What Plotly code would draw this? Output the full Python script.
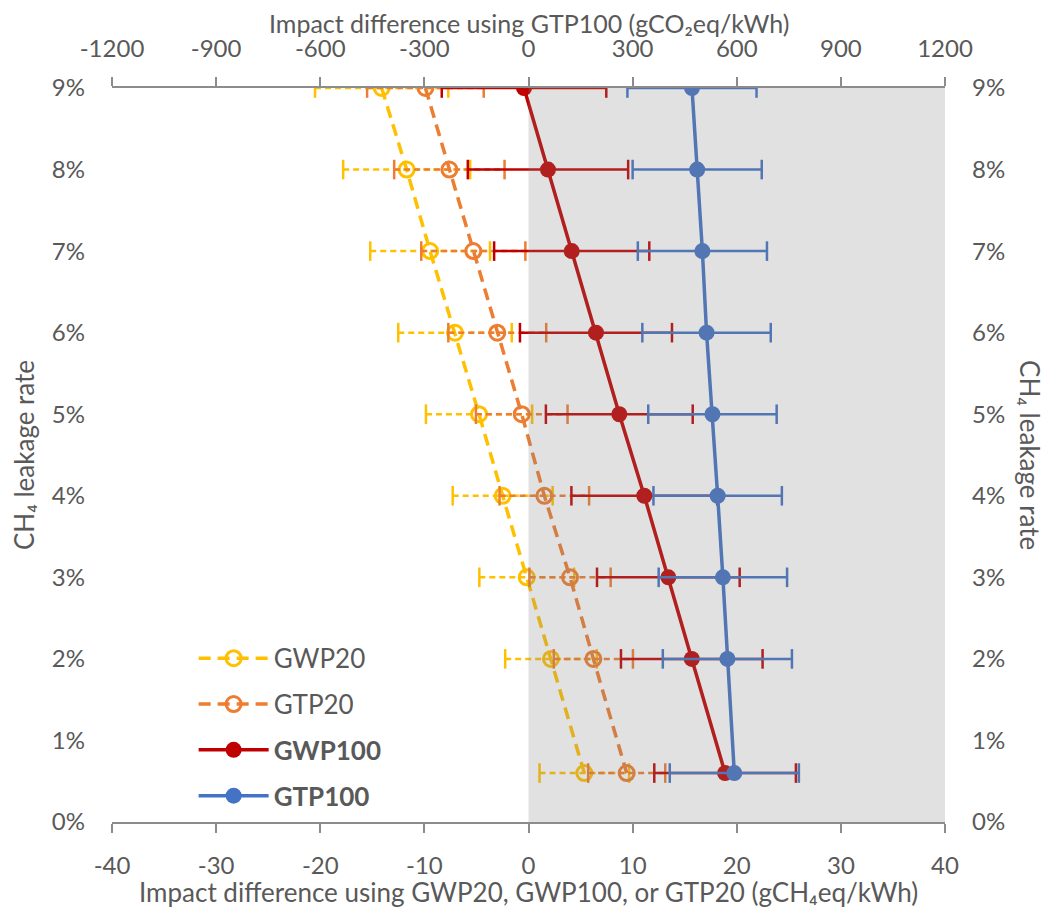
import plotly.graph_objects as go

leak = [9, 8, 7, 6, 5, 4, 3, 2, 0.6]
gwp20 = [-14.1, -11.7, -9.45, -7.06, -4.75, -2.48, -0.17, 2.16, 5.36]
gwp20_err = [6.4, 6.1, 5.75, 5.45, 5.1, 4.8, 4.55, 4.4, 4.3]
gtp20 = [-9.9, -7.6, -5.3, -3.0, -0.65, 1.52, 3.99, 6.23, 9.43]
gtp20_err = [5.6, 5.3, 5.0, 4.7, 4.4, 4.3, 3.9, 3.8, 3.7]
gwp100 = [-0.43, 1.87, 4.15, 6.48, 8.72, 11.12, 13.43, 15.68, 18.88]
gwp100_err = [7.9, 7.7, 7.45, 7.3, 7.05, 7.0, 6.85, 6.8, 6.8]
gtp100 = [471, 486, 501, 513, 530, 545, 560, 573, 593]  # gCO2eq/kWh
gtp100_err = [186, 186, 186, 185, 185, 185, 185, 186, 186]

x_ticks = [-40, -30, -20, -10, 0, 10, 20, 30, 40]
x2_ticks = [-1200, -900, -600, -300, 0, 300, 600, 900, 1200]
y_ticks = [0, 1, 2, 3, 4, 5, 6, 7, 8, 9]

FONT = "Lato, 'Open Sans', sans-serif"
TXT = "#595959"
AX = "#8c8c8c"
FS = 24
TFS = 26

fig = go.Figure()


def add_series(name, xs, errs, color, dash, open_marker, xaxis, bold=False):
    ex, ey, cx, cy = [], [], [], []
    for v, e, y in zip(xs, errs, leak):
        ex += [v - e, v + e, None]
        ey += [y, y, None]
        cx += [v - e, v + e]
        cy += [y, y]
    fig.add_trace(go.Scatter(
        x=ex, y=ey, mode="lines", xaxis=xaxis, yaxis="y",
        line=dict(color=color, width=2.5, dash=("6px,4px" if dash else "solid")),
        showlegend=False, hoverinfo="skip"))
    fig.add_trace(go.Scatter(
        x=cx, y=cy, mode="markers", xaxis=xaxis, yaxis="y",
        marker=dict(symbol="line-ns", size=14, line=dict(color=color, width=2.5)),
        showlegend=False, hoverinfo="skip"))
    fig.add_trace(go.Scatter(
        x=xs, y=leak, mode="lines+markers", xaxis=xaxis, yaxis="y",
        name=(f"<b>{name}</b>" if bold else name), legendgroup=name,
        line=dict(color=color, width=3.5, dash=("12px,7px" if dash else "solid")),
        marker=dict(symbol=("circle-open" if open_marker else "circle"),
                    size=(15 if open_marker else 16), color=color,
                    line=dict(color=color, width=3 if open_marker else 0))))


add_series("GWP20", gwp20, gwp20_err, "#FFC000", True, True, "x")
add_series("GTP20", gtp20, gtp20_err, "#ED7D31", True, True, "x")
add_series("GWP100", gwp100, gwp100_err, "#C00000", False, False, "x", bold=True)
add_series("GTP100", gtp100, gtp100_err, "#4472C4", False, False, "x2", bold=True)

# invisible trace to keep right axis alive
fig.add_trace(go.Scatter(x=[0], y=[0], xaxis="x", yaxis="y2", mode="markers",
                         marker=dict(opacity=0), showlegend=False, hoverinfo="skip"))

fig.add_shape(type="rect", xref="x", yref="y", x0=0, x1=40, y0=0, y1=9,
              fillcolor="rgba(128,128,128,0.24)", line=dict(width=0), layer="above")

tickfont = dict(family=FONT, size=FS, color=TXT)
titlefont = dict(family=FONT, size=TFS, color=TXT)

# page body has an 8px default margin -> figure is 8px smaller and shifted
fig.update_layout(
    width=1041, height=909,
    margin=dict(l=104, r=104, t=80, b=95, autoexpand=False),
    paper_bgcolor="white", plot_bgcolor="white",
    font=dict(family=FONT, color=TXT),
    xaxis=dict(range=[-40, 40], tickvals=x_ticks, ticktext=[str(v) for v in x_ticks],
               automargin=False,
               showgrid=False, zeroline=False, showline=True, linecolor=AX, linewidth=2,
               ticks="outside", ticklen=9, tickwidth=1.5, tickcolor=AX,
               tickfont=tickfont, ticklabelstandoff=12),
    xaxis2=dict(range=[-1200, 1200], tickvals=x2_ticks, ticktext=[str(v) for v in x2_ticks],
                overlaying="x", side="top", anchor="y", automargin=False,
                showgrid=False, zeroline=False, showline=True, linecolor=AX, linewidth=2,
                ticks="outside", ticklen=9, tickwidth=1.5, tickcolor=AX,
                tickfont=tickfont, ticklabelstandoff=10),
    yaxis=dict(range=[0, 9], tickvals=y_ticks, ticktext=[f"{v}%" for v in y_ticks],
               automargin=False,
               showgrid=False, zeroline=False, showline=False, ticks="",
               tickfont=tickfont, ticklabelstandoff=26,
               title=dict(text="CH₄ leakage rate", font=titlefont, standoff=10)),
    yaxis2=dict(range=[0, 9], tickvals=y_ticks, ticktext=[f"{v}%" for v in y_ticks],
                overlaying="y", side="right", anchor="x", automargin=False,
                showgrid=False, zeroline=False, showline=False, ticks="",
                tickfont=tickfont, ticklabelstandoff=26),
    legend=dict(x=0.098, y=0.255, xanchor="left", yanchor="top",
                bgcolor="rgba(0,0,0,0)", font=dict(family=FONT, size=26, color=TXT),
                itemwidth=70, tracegroupgap=9),
    annotations=[
        dict(text="CH₄ leakage rate", xref="paper", yref="paper",
             x=1.102, y=0.5, xanchor="center", yanchor="middle", textangle=90,
             showarrow=False, font=titlefont, borderpad=0),
        dict(text="Impact difference using GWP20, GWP100, or GTP20 (gCH₄eq/kWh)",
             xref="paper", yref="paper", x=0.5, y=-0.096, xanchor="center", yanchor="middle",
             showarrow=False, font=titlefont, borderpad=0),
        dict(text="Impact difference using GTP100 (gCO₂eq/kWh)",
             xref="paper", yref="paper", x=0.5, y=1.089, xanchor="center", yanchor="middle",
             showarrow=False, font=dict(family=FONT, size=25, color=TXT), borderpad=0),
    ],
)

fig.write_html("out.html")
